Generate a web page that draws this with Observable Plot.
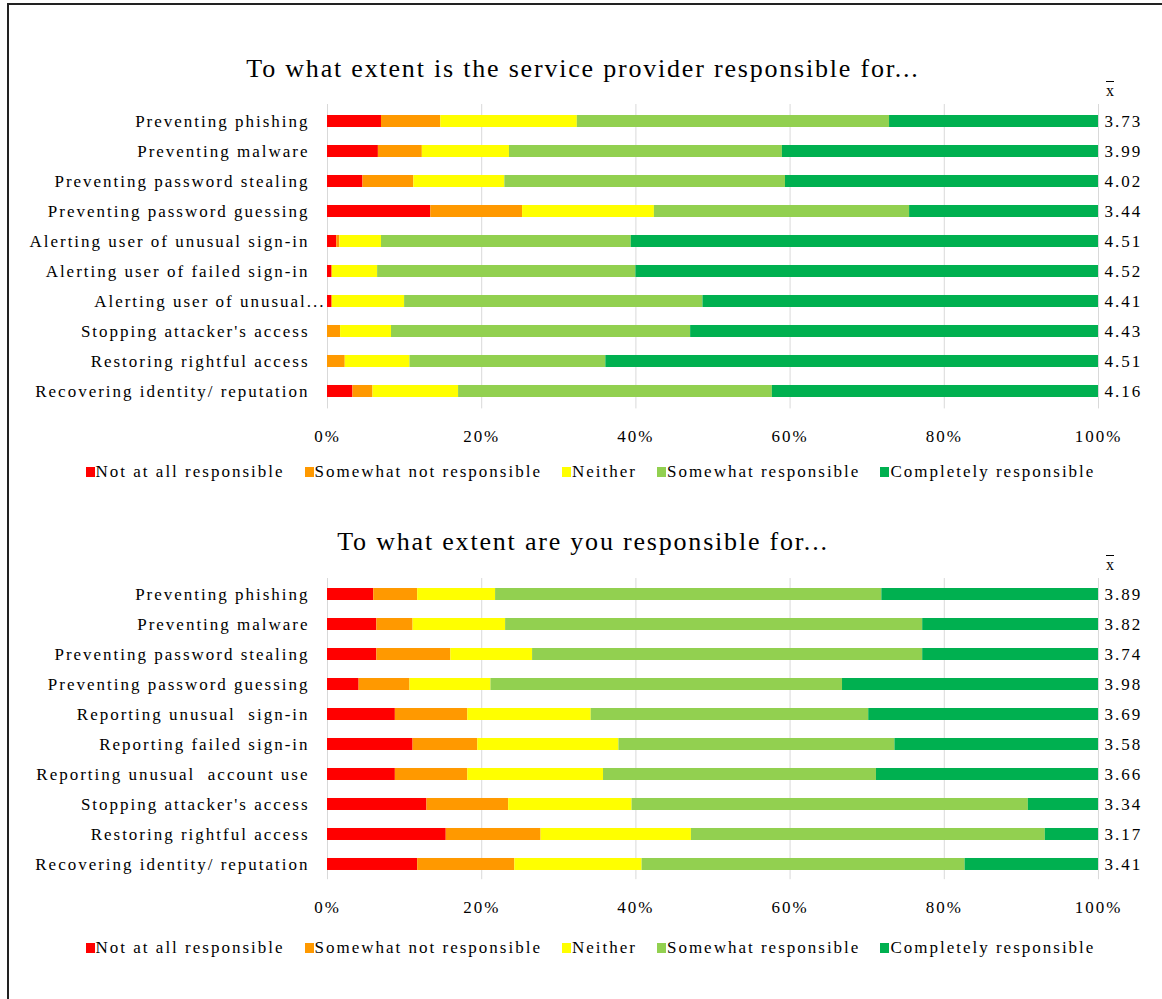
<!DOCTYPE html>
<html>
<head>
<meta charset="utf-8">
<script src="https://cdn.jsdelivr.net/npm/d3@7"></script>
<script src="https://cdn.jsdelivr.net/npm/@observablehq/plot@0.6"></script>
<style>
  html, body { margin: 0; padding: 0; background: #fff; }
  #page { position: relative; width: 1162px; height: 999px; background: #fff; font-family: "Liberation Serif", "Times New Roman", serif; color: #000; overflow: hidden; }
  #page .frameL { position: absolute; left: 7px; top: 3px; width: 1.5px; height: 996px; background: #222; }
  #page .frameT { position: absolute; left: 7px; top: 3px; width: 1155px; height: 1.5px; background: #222; }
  .title { position: absolute; left: 0; width: 1166px; text-align: center; font-size: 26px; line-height: 30px; white-space: nowrap; letter-spacing: 1.8px; }
  .xbar { position: absolute; font-size: 16px; line-height: 18px; text-decoration: overline; }
  .legend { position: absolute; left: 0; width: 1181px; text-align: center; font-size: 17px; line-height: 20px; white-space: nowrap; letter-spacing: 2px; }
  .legend .sw { display: inline-block; width: 9px; height: 10px; margin-right: 1px; vertical-align: 0px; }
  .legend .item { margin: 0 10px; }
  .chart text { letter-spacing: 2px; }
  .chart text.mean { letter-spacing: 1.2px; }
</style>
</head>
<body>
<div id="page">
  <div class="frameL"></div>
  <div class="frameT"></div>
</div>
<script>
// ---------- data ----------
const responses = ["Not at all responsible", "Somewhat not responsible", "Neither", "Somewhat responsible", "Completely responsible"];
const colors = ["#ff0000", "#ff9900", "#ffff00", "#92d050", "#00b050"];
const ticks = [0, 20, 40, 60, 80, 100];

// Chart 1: service provider
const providerTitle = "To what extent is the service provider responsible for...";
const providerTasks = ["Preventing phishing", "Preventing malware", "Preventing password stealing", "Preventing password guessing", "Alerting user of unusual sign-in", "Alerting user of failed sign-in", "Alerting user of unusual...", "Stopping attacker's access", "Restoring rightful access", "Recovering identity/ reputation"];
const providerNotAtAll   = [7.0, 6.6, 4.6, 13.4, 1.2, 0.6, 0.6, 0.0, 0.0, 3.3];
const providerSomewhatNot = [7.7, 5.7, 6.6, 11.9, 0.4, 0.0, 0.0, 1.7, 2.3, 2.6];
const providerNeither    = [17.7, 11.3, 11.8, 17.1, 5.4, 5.9, 9.4, 6.6, 8.4, 11.1];
const providerSomewhat   = [40.5, 35.4, 36.4, 33.1, 32.4, 33.5, 38.7, 38.8, 25.4, 40.7];
const providerCompletely = [27.1, 41.0, 40.6, 24.5, 60.6, 60.0, 51.3, 52.9, 63.9, 42.3];
const providerMeans = ["3.73", "3.99", "4.02", "3.44", "4.51", "4.52", "4.41", "4.43", "4.51", "4.16"];

// Chart 2: you
const userTitle = "To what extent are you responsible for...";
const userTasks = ["Preventing phishing", "Preventing malware", "Preventing password stealing", "Preventing password guessing", "Reporting unusual  sign-in", "Reporting failed sign-in", "Reporting unusual  account use", "Stopping attacker's access", "Restoring rightful access", "Recovering identity/ reputation"];
const userNotAtAll   = [6.0, 6.4, 6.4, 4.1, 8.8, 11.1, 8.8, 12.9, 15.4, 11.7];
const userSomewhatNot = [5.7, 4.7, 9.6, 6.6, 9.4, 8.4, 9.4, 10.6, 12.3, 12.6];
const userNeither    = [10.1, 12.0, 10.6, 10.5, 16.0, 18.3, 17.6, 16.0, 19.5, 16.5];
const userSomewhat   = [50.1, 54.1, 50.6, 45.6, 36.0, 35.8, 35.4, 51.4, 45.9, 41.9];
const userCompletely = [28.1, 22.8, 22.8, 33.2, 29.8, 26.4, 28.8, 9.1, 6.9, 17.3];
const userMeans = ["3.89", "3.82", "3.74", "3.98", "3.69", "3.58", "3.66", "3.34", "3.17", "3.41"];

// ---------- drawing ----------
const page = document.getElementById("page");
const FONT = '"Liberation Serif", "Times New Roman", serif';

function buildRows(tasks, series) {
  const rows = [];
  tasks.forEach((t, i) => {
    responses.forEach((r, j) => rows.push({task: t, response: r, value: series[j][i]}));
  });
  return rows;
}

function drawChart(cfg) {
  const {title, tasks, series, means, titleTop, plotTop, plotBottom, legendTop} = cfg;
  const svgTop = plotTop - 24;
  const marginTop = plotTop - svgTop;
  const marginBottom = 46;
  const height = (plotBottom - svgTop) + marginBottom;

  const t = document.createElement("div");
  t.className = "title";
  t.style.top = titleTop + "px";
  t.textContent = title;
  page.appendChild(t);

  const xb = document.createElement("div");
  xb.className = "xbar";
  xb.style.left = "1106px";
  xb.style.top = (plotTop - 22) + "px";
  xb.textContent = "x";
  page.appendChild(xb);

  const rows = buildRows(tasks, series);
  const meanRows = tasks.map((tk, i) => ({task: tk, mean: means[i]}));
  const normal = tasks.filter(d => !d.endsWith("..."));
  const overflow = tasks.filter(d => d.endsWith("..."));

  const chart = Plot.plot({
    width: 1162,
    height,
    marginLeft: 327,
    marginRight: 64,
    marginTop,
    marginBottom,
    style: {fontFamily: FONT, fontSize: "17px", background: "transparent", color: "#000"},
    x: {domain: [0, 100], ticks, tickFormat: d => d + "%", tickSize: 0, tickPadding: 21, label: null},
    y: {domain: tasks, paddingInner: 0.6, paddingOuter: 0.3, axis: null},
    color: {domain: responses, range: colors},
    marks: [
      Plot.ruleX(ticks, {stroke: "#d9d9d9", strokeWidth: 1}),
      Plot.barX(rows, Plot.stackX({x: "value", y: "task", fill: "response", order: responses})),
      Plot.text(normal, {x: 0, y: d => d, text: d => d, textAnchor: "end", dx: -18, fontSize: 17}),
      Plot.text(overflow, {x: 0, y: d => d, text: d => d, textAnchor: "end", dx: -2, fontSize: 17}),
      Plot.text(meanRows, {x: 100, y: "task", text: "mean", textAnchor: "start", dx: 6, fontSize: 17, className: "mean"})
    ]
  });
  chart.classList.add("chart");
  chart.style.position = "absolute";
  chart.style.top = svgTop + "px";
  chart.style.left = "0px";
  page.appendChild(chart);

  const lg = document.createElement("div");
  lg.className = "legend";
  lg.style.top = legendTop + "px";
  lg.innerHTML = responses.map((r, i) =>
    `<span class="item"><span class="sw" style="background:${colors[i]}"></span>${r}</span>`).join("");
  page.appendChild(lg);
}

drawChart({
  title: providerTitle,
  tasks: providerTasks,
  series: [providerNotAtAll, providerSomewhatNot, providerNeither, providerSomewhat, providerCompletely],
  means: providerMeans,
  titleTop: 54,
  plotTop: 103.8,
  plotBottom: 408.2,
  legendTop: 462
});

drawChart({
  title: userTitle,
  tasks: userTasks,
  series: [userNotAtAll, userSomewhatNot, userNeither, userSomewhat, userCompletely],
  means: userMeans,
  titleTop: 527,
  plotTop: 577.9,
  plotBottom: 879.1,
  legendTop: 938
});
</script>
</body>
</html>
